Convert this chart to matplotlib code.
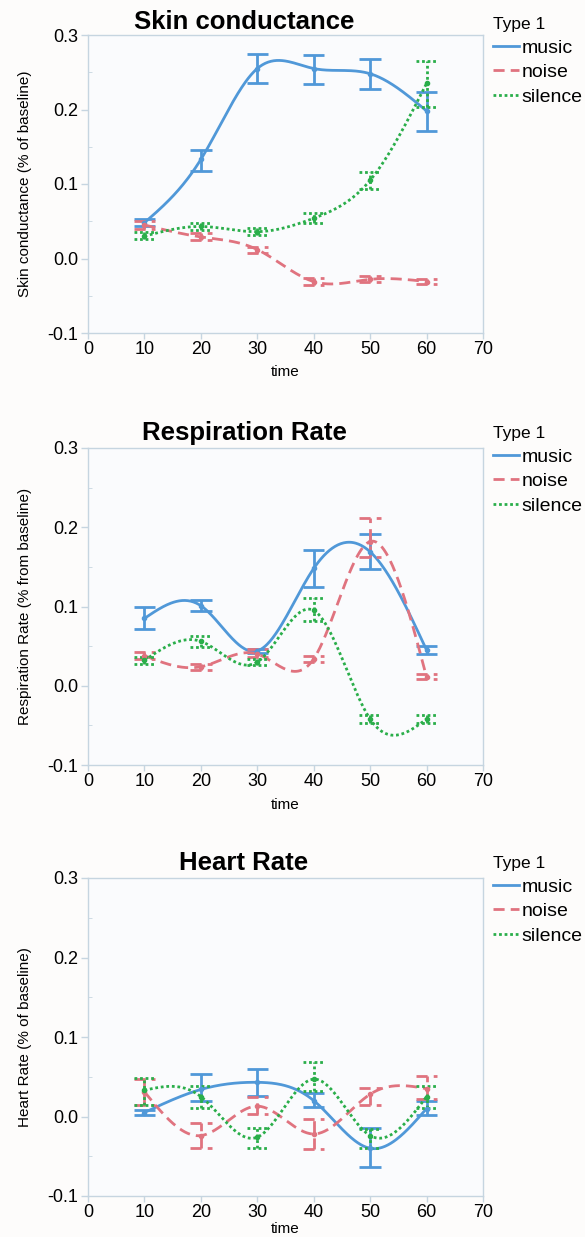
import matplotlib.pyplot as plt
import numpy as np
from matplotlib.lines import Line2D

plt.rcParams["font.family"] = ["Liberation Sans", "DejaVu Sans"]

W, H = 585, 1237

times = [10, 20, 30, 40, 50, 60]
series_names = ["music", "noise", "silence"]

# Skin conductance
skin_music = [0.048, 0.133, 0.255, 0.255, 0.248, 0.198]
skin_music_lo = [0.043, 0.117, 0.236, 0.234, 0.228, 0.171]
skin_music_hi = [0.053, 0.146, 0.274, 0.273, 0.268, 0.224]
skin_noise = [0.045, 0.029, 0.012, -0.031, -0.028, -0.031]
skin_noise_lo = [0.039, 0.025, 0.007, -0.035, -0.032, -0.034]
skin_noise_hi = [0.050, 0.034, 0.016, -0.026, -0.024, -0.027]
skin_silence = [0.030, 0.043, 0.036, 0.054, 0.105, 0.235]
skin_silence_lo = [0.026, 0.038, 0.032, 0.047, 0.093, 0.204]
skin_silence_hi = [0.035, 0.047, 0.041, 0.061, 0.116, 0.265]

# Respiration rate
resp_music = [0.085, 0.101, 0.044, 0.148, 0.169, 0.045]
resp_music_lo = [0.071, 0.094, 0.041, 0.125, 0.147, 0.040]
resp_music_hi = [0.099, 0.108, 0.047, 0.171, 0.191, 0.050]
resp_noise = [0.038, 0.024, 0.040, 0.034, 0.182, 0.011]
resp_noise_lo = [0.034, 0.020, 0.036, 0.030, 0.162, 0.008]
resp_noise_hi = [0.043, 0.028, 0.046, 0.038, 0.212, 0.015]
resp_silence = [0.032, 0.056, 0.030, 0.095, -0.042, -0.042]
resp_silence_lo = [0.028, 0.049, 0.026, 0.082, -0.047, -0.047]
resp_silence_hi = [0.036, 0.063, 0.034, 0.111, -0.037, -0.037]

# Heart rate
heart_music = [0.005, 0.034, 0.043, 0.020, -0.040, 0.010]
heart_music_lo = [0.002, 0.020, 0.026, 0.012, -0.063, 0.002]
heart_music_hi = [0.008, 0.053, 0.060, 0.030, -0.015, 0.019]
heart_noise = [0.031, -0.024, 0.013, -0.022, 0.028, 0.035]
heart_noise_lo = [0.015, -0.039, 0.003, -0.041, 0.015, 0.022]
heart_noise_hi = [0.047, -0.008, 0.024, -0.003, 0.036, 0.051]
heart_silence = [0.033, 0.025, -0.026, 0.047, -0.024, 0.025]
heart_silence_lo = [0.015, 0.011, -0.039, 0.032, -0.039, 0.011]
heart_silence_hi = [0.049, 0.038, -0.014, 0.068, -0.016, 0.038]

titles = ["Skin conductance", "Respiration Rate", "Heart Rate"]
ylabels = [
    "Skin conductance (% of baseline)",
    "Respiration Rate (% from baseline)",
    "Heart Rate (% of baseline)",
]

panels = [
    [(skin_music, skin_music_lo, skin_music_hi),
     (skin_noise, skin_noise_lo, skin_noise_hi),
     (skin_silence, skin_silence_lo, skin_silence_hi)],
    [(resp_music, resp_music_lo, resp_music_hi),
     (resp_noise, resp_noise_lo, resp_noise_hi),
     (resp_silence, resp_silence_lo, resp_silence_hi)],
    [(heart_music, heart_music_lo, heart_music_hi),
     (heart_noise, heart_noise_lo, heart_noise_hi),
     (heart_silence, heart_silence_lo, heart_silence_hi)],
]

colors = ["#5098d8", "#e0737f", "#2aae4a"]
styles = ["-", (0, (4, 2.2)), (0, (1, 1))]

# pixel layout (top, bottom) for each panel, title y, legend top
boxes = [(35, 333), (448, 765), (878, 1196)]
title_y = [22, 433, 863]
legend_top = [17, 426, 856]
xlabel_y = [372, 805, 1229]
LEFT, RIGHT = 88, 483


def natural_spline(x, y, xs):
    x = np.asarray(x, float)
    y = np.asarray(y, float)
    n = len(x)
    h = np.diff(x)
    A = np.zeros((n, n))
    b = np.zeros(n)
    A[0, 0] = A[-1, -1] = 1
    for i in range(1, n - 1):
        A[i, i - 1] = h[i - 1]
        A[i, i] = 2 * (h[i - 1] + h[i])
        A[i, i + 1] = h[i]
        b[i] = 3 * ((y[i + 1] - y[i]) / h[i] - (y[i] - y[i - 1]) / h[i - 1])
    c = np.linalg.solve(A, b)
    bc = (y[1:] - y[:-1]) / h - h * (2 * c[:-1] + c[1:]) / 3
    d = (c[1:] - c[:-1]) / (3 * h)
    idx = np.clip(np.searchsorted(x, xs) - 1, 0, n - 2)
    dx = xs - x[idx]
    return y[idx] + bc[idx] * dx + c[idx] * dx ** 2 + d[idx] * dx ** 3


fig = plt.figure(figsize=(W / 100, H / 100), dpi=100, facecolor="#fdfcfb")
xs = np.linspace(times[0], times[-1], 300)
spine_col = "#c6d5e0"

for p in range(3):
    top, bot = boxes[p]
    ax = fig.add_axes([LEFT / W, 1 - bot / H, (RIGHT - LEFT) / W, (bot - top) / H])
    ax.set_facecolor("#fafbfd")
    for (mean, lo, hi), col, ls in zip(panels[p], colors, styles):
        ax.plot(xs, natural_spline(times, mean, xs), color=col, ls=ls, lw=2,
                zorder=3)
        ax.vlines(times, lo, hi, colors=col, linestyles=ls, lw=2, zorder=3)
        for t, l, h in zip(times, lo, hi):
            ax.hlines([l, h], t - 1.9, t + 1.9, colors=col, linestyles=ls, lw=2,
                      zorder=3)
        ax.plot(times, mean, "o", color=col, ms=3, zorder=4)

    ax.set_xlim(0, 70)
    ax.set_ylim(-0.1, 0.3)
    ax.set_xticks(range(0, 71, 10))
    ax.set_yticks([-0.1, 0.0, 0.1, 0.2, 0.3])
    ax.set_yticklabels(["-0.1", "0.0", "0.1", "0.2", "0.3"])
    ax.set_yticks(np.arange(-0.05, 0.3, 0.1), minor=True)
    ax.tick_params(axis="x", length=4, width=1, color=spine_col, pad=2,
                   labelsize=13)
    ax.tick_params(axis="y", length=5, width=1, color=spine_col, pad=2,
                   labelsize=13)
    ax.tick_params(axis="y", which="minor", length=3, direction="in",
                   color=spine_col)
    for s in ax.spines.values():
        s.set_color(spine_col)
        s.set_linewidth(1)

    fig.text(25 / W, 1 - (top + bot) / 2 / H, ylabels[p], rotation=90,
             ha="center", va="center", fontsize=11)
    fig.text(285 / W, 1 - xlabel_y[p] / H, "time", ha="center", va="center",
             fontsize=11)
    fig.text(244 / W, 1 - title_y[p] / H, titles[p], ha="center", va="center",
             fontsize=18.5, fontweight="bold")

    handles = [Line2D([], [], color=c, ls=s, lw=2) for c, s in zip(colors, styles)]
    fig.legend(handles, series_names, title="Type 1", loc="upper left",
               bbox_to_anchor=(493 / W, 1 - legend_top[p] / H),
               frameon=False, fontsize=14, title_fontsize=12.5,
               alignment="left", handlelength=1.35, handletextpad=0.12,
               labelspacing=0.36, borderpad=0, borderaxespad=0)

fig.savefig("out.png", dpi=100, facecolor=fig.get_facecolor())
